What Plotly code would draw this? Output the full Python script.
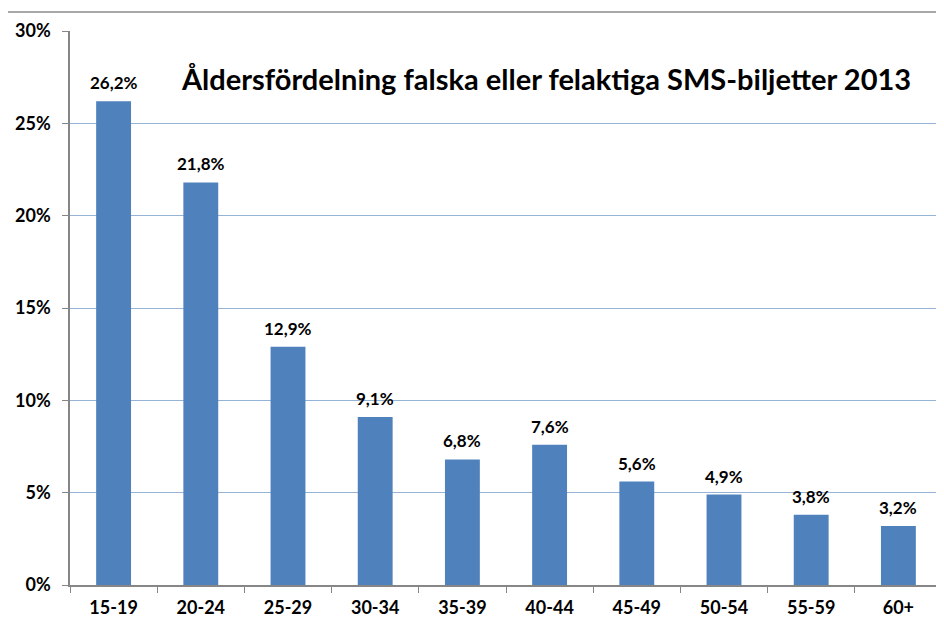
import plotly.graph_objects as go

categories = ["15-19", "20-24", "25-29", "30-34", "35-39", "40-44", "45-49", "50-54", "55-59", "60+"]
values = [26.2, 21.8, 12.9, 9.1, 6.8, 7.6, 5.6, 4.9, 3.8, 3.2]
labels = ["26,2%", "21,8%", "12,9%", "9,1%", "6,8%", "7,6%", "5,6%", "4,9%", "3,8%", "3,2%"]
ytick_vals = [0, 5, 10, 15, 20, 25, 30]
ytick_text = ["0%", "5%", "10%", "15%", "20%", "25%", "30%"]
title = "Åldersfördelning falska eller felaktiga SMS-biljetter 2013"

font_family = "Lato, Open Sans, sans-serif"

fig = go.Figure(go.Bar(
    x=categories, y=values,
    marker=dict(color="#4F81BD", line=dict(width=0)),
    width=0.4, hoverinfo="x+y",
))

label_annotations = [
    dict(x=c, y=v, text=t, xref="x", yref="y", showarrow=False,
         xanchor="center", yanchor="bottom", yshift=6,
         font=dict(family=font_family, size=17, weight="bold", color="black"))
    for c, v, t in zip(categories, values, labels)
]

fig.update_layout(
    width=944, height=625,
    margin=dict(l=62, r=10, t=23, b=48),
    plot_bgcolor="white", paper_bgcolor="white",
    showlegend=False,
    font=dict(family=font_family, color="black"),
    xaxis=dict(
        automargin=False,
        showline=True, linecolor="#868686", linewidth=1.5,
        ticks="outside", ticklen=6, tickcolor="#868686", tickson="boundaries",
        tickfont=dict(family=font_family, size=18, weight="bold"),
        showgrid=False, ticklabelstandoff=6,
    ),
    yaxis=dict(
        automargin=False,
        range=[0, 30], tickvals=ytick_vals, ticktext=ytick_text,
        showline=True, linecolor="#868686", linewidth=1.5,
        ticks="outside", ticklen=6, tickcolor="#868686",
        tickfont=dict(family=font_family, size=18, weight="bold"),
        showgrid=True, gridcolor="#95B3D7", gridwidth=1,
        zeroline=False, ticklabelstandoff=8,
    ),
    annotations=label_annotations + [dict(
        text=title, xref="paper", yref="paper", x=0.546, y=(585 - 78) / 554,
        xanchor="center", yanchor="middle", showarrow=False,
        font=dict(family=font_family, size=29, weight="bold", color="black"),
    )],
    shapes=[dict(
        type="rect", xref="paper", yref="paper",
        x0=(7 - 70) / 872, x1=1.2, y0=-0.3, y1=(585 - 12) / 554,
        line=dict(color="#8C8C8C", width=1.5), layer="below",
    )],
)

fig.write_html("out.html")
